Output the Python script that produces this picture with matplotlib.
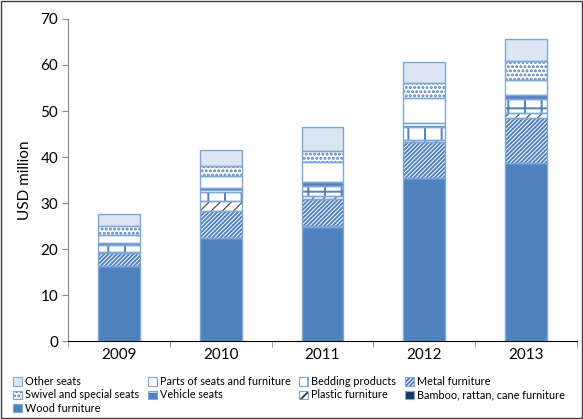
import matplotlib.pyplot as plt
import numpy as np
from matplotlib.patches import Patch, Rectangle
from matplotlib.legend_handler import HandlerTuple

plt.rcParams["font.family"] = ["Lato", "DejaVu Sans"]
plt.rcParams["hatch.linewidth"] = 1.4

# -----------------------------
# Data (USD million)
# -----------------------------
years = ["2009", "2010", "2011", "2012", "2013"]

wood = [16.3, 22.3, 24.8, 35.4, 38.6]
bamboo = [0.1, 0.1, 0.1, 0.1, 0.1]
metal = [2.7, 5.9, 6.0, 7.7, 9.7]
plastic = [0.35, 2.1, 0.7, 0.5, 1.1]
bedding = [1.45, 1.9, 2.1, 2.9, 3.1]
vehicle = [0.35, 0.9, 0.8, 0.7, 0.9]
parts = [1.75, 2.7, 4.5, 5.6, 3.2]
swivel = [1.9, 2.1, 2.4, 3.1, 4.2]
other = [2.75, 3.5, 5.1, 4.7, 4.75]

# stack order bottom -> top
series = [
    ("Wood furniture", wood),
    ("Bamboo, rattan, cane furniture", bamboo),
    ("Metal furniture", metal),
    ("Plastic furniture", plastic),
    ("Bedding products", bedding),
    ("Vehicle seats", vehicle),
    ("Parts of seats and furniture", parts),
    ("Swivel and special seats", swivel),
    ("Other seats", other),
]

# face colour, hatch, hatch colour, hatch width
styles = {
    "Wood furniture": ("#4f81bd", None, "#4f81bd", 1.4),
    "Bamboo, rattan, cane furniture": ("#17375e", None, "#17375e", 1.4),
    "Metal furniture": ("white", "////////", "#4f81bd", 1.4),
    "Plastic furniture": ("white", "///", "#404040", 0.8),
    "Bedding products": ("white", "+", "#4f81bd", 1.4),
    "Vehicle seats": ("#4f81bd", "-", "white", 1.4),
    "Parts of seats and furniture": ("white", None, "#4f81bd", 1.4),
    "Swivel and special seats": ("white", "....", "#4f81bd", 1.4),
    "Other seats": ("#dce6f2", None, "#dce6f2", 1.4),
}
border = "#7ea6d8"

fig = plt.figure(figsize=(5.83, 4.19), dpi=100)
ax = fig.add_axes([0.1166, 0.186, 0.873, 0.7687])

x = np.arange(len(years))
width = 0.41
bottom = np.zeros(len(years))
handles = {}

for name, vals in series:
    vals = np.array(vals)
    fc, hatch, hc, hlw = styles[name]
    with plt.rc_context({"hatch.linewidth": hlw}):
        ax.bar(x, vals, width, bottom=bottom, facecolor=fc, edgecolor=hc,
               hatch=hatch, linewidth=0, zorder=2)
        hatch_patch = Patch(facecolor=fc, edgecolor=hc, hatch=hatch, linewidth=0)
    ax.bar(x, vals, width, bottom=bottom, fill=False, edgecolor=border,
           linewidth=1.0, zorder=3)
    bottom += vals
    handles[name] = (
        hatch_patch,
        Patch(fill=False, edgecolor=border, linewidth=0.8),
    )

# Axes styling
ax.set_xlim(-0.5, len(years) - 0.5)
ax.set_ylim(0, 70)
ax.set_yticks(range(0, 71, 10))
ax.set_xticks(x)
ax.set_xticklabels(years, fontsize=11)
ax.tick_params(axis="y", labelsize=11, length=4, color="#868686", pad=3)
ax.tick_params(axis="x", length=0, pad=5)
ax.set_xticks(np.arange(-0.5, len(years), 1), minor=True)
ax.tick_params(axis="x", which="minor", length=4, color="#868686")
ax.spines["top"].set_visible(False)
ax.spines["right"].set_visible(False)
ax.spines["left"].set_color("#868686")
ax.spines["bottom"].set_color("black")
ax.set_ylabel("USD million", fontsize=11, labelpad=6)

# Legend (column-major fill)
order = [
    "Other seats", "Swivel and special seats", "Wood furniture",
    "Parts of seats and furniture", "Vehicle seats",
    "Bedding products", "Plastic furniture",
    "Metal furniture", "Bamboo, rattan, cane furniture",
]
fig.legend(
    [handles[n] for n in order], order,
    handler_map={tuple: HandlerTuple(ndivide=1)},
    loc="upper left", bbox_to_anchor=(0.01, 0.12),
    ncol=4, frameon=False, fontsize=7.8,
    handlelength=0.8, handleheight=0.8, handletextpad=0.3,
    columnspacing=0.8, labelspacing=0.2, borderpad=0.2,
)

# Outer frame
fig.patches.append(Rectangle((0.002, 0.002), 0.996, 0.996, transform=fig.transFigure,
                             fill=False, edgecolor="#404040", linewidth=1.0))

fig.savefig("out.png", dpi=100)
